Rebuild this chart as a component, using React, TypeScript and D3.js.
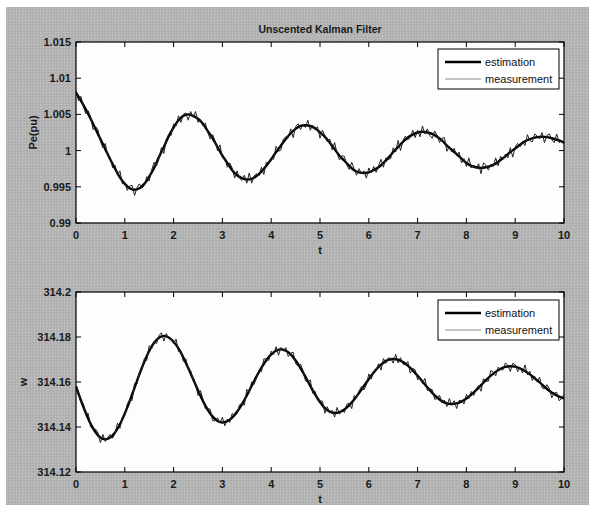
import React from 'react';
import * as d3 from 'd3';

const W = 590;
const H = 506;

const title = 'Unscented Kalman Filter';
const xTicks = [0, 1, 2, 3, 4, 5, 6, 7, 8, 9, 10];
const peTicks = [0.99, 0.995, 1, 1.005, 1.01, 1.015];
const wTicks = [314.12, 314.14, 314.16, 314.18, 314.2];
const legendLabels = ['estimation', 'measurement'];

// sample spacing of the two series (seconds)
const estStep = 0.1;
const measStep = 0.05;

const peEstimation = [
  1.0080, 1.0069, 1.0057, 1.0044, 1.0030, 1.0016, 1.0002, 0.9988, 0.9975, 0.9963,
  0.9954, 0.9948, 0.9946, 0.9948, 0.9954, 0.9964, 0.9976, 0.9991, 1.0005, 1.0020,
  1.0032, 1.0042, 1.0048, 1.0050, 1.0048, 1.0044, 1.0037, 1.0027, 1.0017, 1.0005,
  0.9993, 0.9983, 0.9973, 0.9966, 0.9962, 0.9960, 0.9961, 0.9965, 0.9971, 0.9979,
  0.9988, 0.9998, 1.0007, 1.0016, 1.0024, 1.0030, 1.0034, 1.0035, 1.0034, 1.0031,
  1.0025, 1.0019, 1.0011, 1.0002, 0.9993, 0.9986, 0.9979, 0.9973, 0.9970, 0.9969,
  0.9970, 0.9973, 0.9977, 0.9983, 0.9990, 0.9998, 1.0005, 1.0012, 1.0018, 1.0022,
  1.0025, 1.0026, 1.0025, 1.0023, 1.0019, 1.0014, 1.0007, 1.0001, 0.9995, 0.9989,
  0.9983, 0.9979, 0.9977, 0.9976, 0.9977, 0.9979, 0.9982, 0.9987, 0.9992, 0.9998,
  1.0003, 1.0008, 1.0013, 1.0016, 1.0018, 1.0019, 1.0019, 1.0018, 1.0016, 1.0014,
  1.0011,
];

const peMeasurement = [
  1.0083, 1.0069, 1.0075, 1.0061, 1.0051, 1.0055, 1.0046, 1.0029, 1.0033, 1.0029,
  1.0013, 1.0004, 1.0010, 0.9993, 0.9991, 0.9976, 0.9980, 0.9966, 0.9972, 0.9954,
  0.9956, 0.9945, 0.9951, 0.9952, 0.9938, 0.9949, 0.9954, 0.9948, 0.9952, 0.9964,
  0.9958, 0.9973, 0.9984, 0.9979, 0.9989, 1.0004, 0.9996, 1.0015, 1.0022, 1.0021,
  1.0037, 1.0034, 1.0048, 1.0039, 1.0050, 1.0052, 1.0042, 1.0054, 1.0046, 1.0054,
  1.0039, 1.0043, 1.0034, 1.0038, 1.0025, 1.0016, 1.0022, 1.0013, 1.0000, 1.0008,
  0.9990, 0.9990, 0.9977, 0.9983, 0.9976, 0.9962, 0.9972, 0.9962, 0.9959, 0.9966,
  0.9955, 0.9969, 0.9955, 0.9965, 0.9968, 0.9965, 0.9977, 0.9967, 0.9984, 0.9982,
  0.9990, 0.9988, 1.0006, 0.9999, 1.0001, 1.0016, 1.0019, 1.0018, 1.0030, 1.0018,
  1.0033, 1.0037, 1.0029, 1.0036, 1.0032, 1.0042, 1.0028, 1.0035, 1.0029, 1.0033,
  1.0017, 1.0028, 1.0021, 1.0012, 1.0016, 1.0001, 1.0011, 0.9996, 0.9987, 0.9993,
  0.9992, 0.9980, 0.9974, 0.9984, 0.9975, 0.9966, 0.9975, 0.9968, 0.9972, 0.9962,
  0.9976, 0.9969, 0.9978, 0.9970, 0.9979, 0.9988, 0.9977, 0.9990, 0.9988, 0.9989,
  1.0004, 0.9998, 1.0014, 1.0000, 1.0014, 1.0020, 1.0015, 1.0018, 1.0028, 1.0018,
  1.0028, 1.0019, 1.0034, 1.0023, 1.0030, 1.0021, 1.0017, 1.0027, 1.0021, 1.0011,
  1.0017, 1.0018, 0.9999, 1.0006, 0.9998, 1.0003, 0.9993, 0.9998, 0.9983, 0.9989,
  0.9978, 0.9990, 0.9976, 0.9980, 0.9975, 0.9982, 0.9968, 0.9983, 0.9980, 0.9973,
  0.9981, 0.9978, 0.9990, 0.9979, 0.9992, 0.9988, 0.9995, 0.9990, 1.0004, 0.9991,
  1.0005, 1.0010, 1.0005, 1.0013, 1.0007, 1.0022, 1.0014, 1.0012, 1.0023, 1.0020,
  1.0016, 1.0025, 1.0011, 1.0021, 1.0023, 1.0015, 1.0011, 1.0023, 1.0011, 1.0014,
  1.0009,
];

const wEstimation = [
  314.1580, 314.1519, 314.1463, 314.1414, 314.1377, 314.1353, 314.1345, 314.1353, 314.1376, 314.1412,
  314.1460, 314.1515, 314.1575, 314.1635, 314.1690, 314.1738, 314.1774, 314.1797, 314.1805, 314.1798,
  314.1779, 314.1749, 314.1709, 314.1662, 314.1613, 314.1563, 314.1516, 314.1476, 314.1446, 314.1427,
  314.1420, 314.1426, 314.1442, 314.1468, 314.1501, 314.1540, 314.1583, 314.1625, 314.1664, 314.1697,
  314.1723, 314.1739, 314.1745, 314.1739, 314.1723, 314.1696, 314.1662, 314.1624, 314.1583, 314.1545,
  314.1511, 314.1484, 314.1468, 314.1462, 314.1466, 314.1478, 314.1497, 314.1522, 314.1551, 314.1582,
  314.1613, 314.1642, 314.1667, 314.1686, 314.1698, 314.1702, 314.1699, 314.1689, 314.1673, 314.1652,
  314.1628, 314.1602, 314.1576, 314.1552, 314.1531, 314.1515, 314.1505, 314.1502, 314.1505, 314.1513,
  314.1527, 314.1544, 314.1564, 314.1586, 314.1608, 314.1628, 314.1645, 314.1659, 314.1667, 314.1670,
  314.1668, 314.1660, 314.1649, 314.1634, 314.1616, 314.1598, 314.1579, 314.1561, 314.1546, 314.1535,
  314.1527,
];

const wMeasurement = [
  314.1575, 314.1554, 314.1510, 314.1505,
  314.1454, 314.1461, 314.1400, 314.1390, 314.1391, 314.1374, 314.1330, 314.1367,
  314.1336, 314.1354, 314.1367, 314.1350, 314.1371, 314.1417, 314.1394, 314.1445, 314.1451, 314.1501,
  314.1520, 314.1518, 314.1593, 314.1591, 314.1644, 314.1657, 314.1704, 314.1696, 314.1761, 314.1747,
  314.1779, 314.1771, 314.1806, 314.1819, 314.1782, 314.1815, 314.1793, 314.1793, 314.1770, 314.1791,
  314.1735, 314.1738, 314.1691, 314.1703, 314.1657, 314.1651, 314.1604, 314.1593, 314.1540, 314.1562,
  314.1525, 314.1482, 314.1481, 314.1479, 314.1428, 314.1427, 314.1441, 314.1418, 314.1443, 314.1405,
  314.1435, 314.1420, 314.1460, 314.1450, 314.1459, 314.1498, 314.1506, 314.1497, 314.1567, 314.1552,
  314.1601, 314.1590, 314.1620, 314.1653, 314.1646, 314.1703, 314.1702, 314.1696, 314.1737, 314.1722,
  314.1757, 314.1719, 314.1754, 314.1737, 314.1753, 314.1713, 314.1728, 314.1732, 314.1682, 314.1670,
  314.1680, 314.1652, 314.1606, 314.1598, 314.1610, 314.1550, 314.1559, 314.1519, 314.1516, 314.1515,
  314.1461, 314.1490, 314.1463, 314.1474, 314.1444, 314.1487, 314.1457, 314.1477, 314.1464, 314.1501,
  314.1506, 314.1482, 314.1540, 314.1531, 314.1560, 314.1580, 314.1564, 314.1588, 314.1636, 314.1613,
  314.1647, 314.1649, 314.1681, 314.1653, 314.1704, 314.1683, 314.1707, 314.1705, 314.1684, 314.1723,
  314.1685, 314.1708, 314.1680, 314.1676, 314.1691, 314.1639, 314.1661, 314.1654, 314.1610, 314.1620,
  314.1593, 314.1616, 314.1562, 314.1569, 314.1566, 314.1523, 314.1526, 314.1541, 314.1506, 314.1519,
  314.1491, 314.1526, 314.1497, 314.1517, 314.1482, 314.1518, 314.1518, 314.1502, 314.1545, 314.1526,
  314.1558, 314.1540, 314.1569, 314.1584, 314.1559, 314.1615, 314.1603, 314.1604, 314.1651, 314.1645,
  314.1627, 314.1666, 314.1654, 314.1654, 314.1685, 314.1673, 314.1647, 314.1683, 314.1677, 314.1646,
  314.1665, 314.1640, 314.1676, 314.1632, 314.1648, 314.1607, 314.1625, 314.1602, 314.1621, 314.1574,
  314.1570, 314.1588, 314.1570, 314.1530, 314.1551, 314.1554, 314.1517, 314.1526, 314.1545,
];

const font = '"Liberation Sans", Arial, Helvetica, sans-serif';
const plotLeft = 76;
const plotRight = 564;
const tickLen = 5;
const measColor = '#222';

type PanelProps = {
  id: string;
  top: number;
  bottom: number;
  domain: [number, number];
  ticks: number[];
  est: number[];
  meas: number[];
  ylabel: string;
  ylabelX: number;
  legendTop: number;
};

function Panel({ id, top, bottom, domain, ticks, est, meas, ylabel, ylabelX, legendTop }: PanelProps) {
  const x = d3.scaleLinear().domain([0, 10]).range([plotLeft, plotRight]);
  const y = d3.scaleLinear().domain(domain).range([bottom, top]);

  const estLine = d3
    .line<number>()
    .x((_, i) => x(i * estStep))
    .y((d) => y(d))
    .curve(d3.curveCatmullRom);
  const measLine = d3
    .line<number>()
    .x((_, i) => x(i * measStep))
    .y((d) => y(d));

  const lx = 438;
  const lw = 121;
  const lh = 40;

  return (
    <g>
      <clipPath id={id}>
        <rect x={plotLeft} y={top} width={plotRight - plotLeft} height={bottom - top} />
      </clipPath>
      <rect x={plotLeft} y={top} width={plotRight - plotLeft} height={bottom - top} fill="#fdfdfd" />

      <g clipPath={`url(#${id})`}>
        <path d={estLine(est) || ''} fill="none" stroke="#000" strokeWidth={2.4} />
        <path d={measLine(meas) || ''} fill="none" stroke={measColor} strokeWidth={1} />
      </g>

      {/* ticks, inward on all four sides */}
      {xTicks.map((t) => (
        <g key={'x' + t}>
          <line x1={x(t)} x2={x(t)} y1={bottom} y2={bottom - tickLen} stroke="#000" />
          <line x1={x(t)} x2={x(t)} y1={top} y2={top + tickLen} stroke="#000" />
          <text
            x={x(t)}
            y={bottom + 16}
            textAnchor="middle"
            fontFamily={font}
            fontSize={11}
            fontWeight="bold"
            fill="#1a1a1a"
          >
            {t}
          </text>
        </g>
      ))}
      {ticks.map((t) => (
        <g key={'y' + t}>
          <line x1={plotLeft} x2={plotLeft + tickLen} y1={y(t)} y2={y(t)} stroke="#000" />
          <line x1={plotRight} x2={plotRight - tickLen} y1={y(t)} y2={y(t)} stroke="#000" />
          <text
            x={plotLeft - 5}
            y={y(t)}
            dy="0.36em"
            textAnchor="end"
            fontFamily={font}
            fontSize={11}
            fontWeight="bold"
            fill="#1a1a1a"
          >
            {String(t)}
          </text>
        </g>
      ))}

      <rect
        x={plotLeft}
        y={top}
        width={plotRight - plotLeft}
        height={bottom - top}
        fill="none"
        stroke="#000"
        strokeWidth={1.2}
      />

      <text
        x={(plotLeft + plotRight) / 2}
        y={bottom + 31}
        textAnchor="middle"
        fontFamily={font}
        fontSize={11}
        fontWeight="bold"
        fill="#1a1a1a"
      >
        t
      </text>
      <text
        transform={`translate(${ylabelX},${(top + bottom) / 2}) rotate(-90)`}
        textAnchor="middle"
        fontFamily={font}
        fontSize={11}
        fontWeight="bold"
        fill="#1a1a1a"
      >
        {ylabel}
      </text>

      {/* legend */}
      <rect x={lx} y={legendTop} width={lw} height={lh} fill="#fff" stroke="#000" strokeWidth={1} />
      {legendLabels.map((lab, i) => {
        const ly = legendTop + 13 + i * 17;
        return (
          <g key={lab}>
            <line
              x1={lx + 7}
              x2={lx + 43}
              y1={ly}
              y2={ly}
              stroke={i === 0 ? '#000' : '#8a8a8a'}
              strokeWidth={i === 0 ? 2.5 : 1}
            />
            <text x={lx + 47} y={ly} dy="0.35em" fontFamily={font} fontSize={11} fill="#111">
              {lab}
            </text>
          </g>
        );
      })}
    </g>
  );
}

export default function App() {
  return (
    <div style={{ position: 'absolute', left: 0, top: 0 }}>
      <svg width={W} height={H} style={{ display: 'block' }}>
        <defs>
          <pattern id="paper" width={3} height={3} patternUnits="userSpaceOnUse">
            <rect width={3} height={3} fill="#b6b6b6" />
            <rect x={0} y={0} width={1} height={1} fill="#a6a6a6" />
            <rect x={2} y={1} width={1} height={1} fill="#aaaaaa" />
            <rect x={1} y={2} width={1} height={1} fill="#c2c2c2" />
          </pattern>
        </defs>
        <rect width={W} height={H} fill="#fff" />
        <rect x={6} y={7} width={583} height={498} fill="url(#paper)" />

        <text
          x={(plotLeft + plotRight) / 2}
          y={33}
          textAnchor="middle"
          fontFamily={font}
          fontSize={10.5}
          fontWeight="bold"
          fill="#1a1a1a"
        >
          {title}
        </text>

        <Panel
          id="clipPe"
          top={42}
          bottom={223}
          domain={[0.99, 1.015]}
          ticks={peTicks}
          est={peEstimation}
          meas={peMeasurement}
          ylabel="Pe(pu)"
          ylabelX={37}
          legendTop={49}
        />
        <Panel
          id="clipW"
          top={292}
          bottom={472}
          domain={[314.12, 314.2]}
          ticks={wTicks}
          est={wEstimation}
          meas={wMeasurement}
          ylabel="w"
          ylabelX={27}
          legendTop={300}
        />
      </svg>
    </div>
  );
}
